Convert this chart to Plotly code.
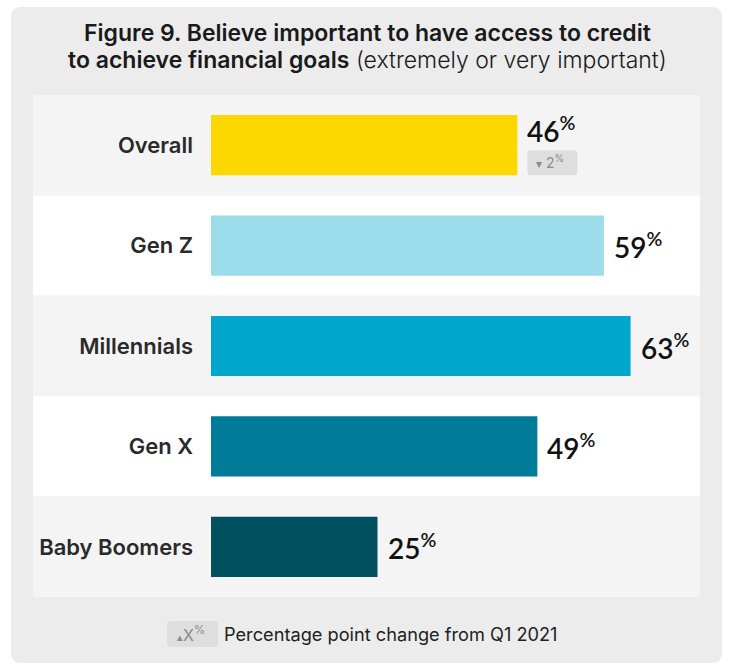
import plotly.graph_objects as go

# Survey results: share who say access to credit is extremely/very important
categories = ["Overall", "Gen Z", "Millennials", "Gen X", "Baby Boomers"]
values = [46, 59, 63, 49, 25]
bar_colors = ["#FCD800", "#9CDCEB", "#00A6CC", "#007C99", "#01505F"]
changes = {"Overall": -2}  # percentage point change from Q1 2021

W, H = 729, 667
FONT = "Inter"
NUM_FONT = "Lato"


def px(x):
    return x / W


def py(y):
    return 1 - y / H


def rounded_rect(x0, y0, x1, y1, r):
    """SVG path for a rounded rectangle given in pixel page coordinates."""
    X0, X1 = px(x0), px(x1)
    Y0, Y1 = py(y0), py(y1)
    rx, ry = r / W, r / H
    return (f"M{X0+rx},{Y0} L{X1-rx},{Y0} Q{X1},{Y0} {X1},{Y0-ry} "
            f"L{X1},{Y1+ry} Q{X1},{Y1} {X1-rx},{Y1} L{X0+rx},{Y1} "
            f"Q{X0},{Y1} {X0},{Y1+ry} L{X0},{Y0-ry} Q{X0},{Y0} {X0+rx},{Y0} Z")


fig = go.Figure()
fig.add_trace(go.Bar(
    x=values, y=categories, orientation="h",
    marker=dict(color=bar_colors, line=dict(width=0)),
    width=0.6, hoverinfo="skip",
))

shapes = []
# card background
shapes.append(dict(type="path", xref="paper", yref="paper",
                   path=rounded_rect(11, 7, 722, 663, 10),
                   fillcolor="#ECECEC", line=dict(width=0), layer="below"))
# alternating row bands
for i, _ in enumerate(categories):
    shapes.append(dict(type="rect", xref="paper", yref="y",
                       x0=px(33), x1=px(700), y0=i - 0.5, y1=i + 0.5,
                       fillcolor="#F4F4F4" if i % 2 == 0 else "#FFFFFF",
                       line=dict(width=0), layer="below"))

annotations = []
# two-line title
annotations.append(dict(
    xref="paper", yref="paper", x=px(367), y=py(33), xanchor="center", yanchor="middle",
    text="Figure 9. Believe important to have access to credit",
    showarrow=False, font=dict(family=FONT, size=23, color="#1A1A1A", weight=600),
))
annotations.append(dict(
    xref="paper", yref="paper", x=px(367), y=py(60), xanchor="center", yanchor="middle",
    text=("<span style='font-weight:600'>to achieve financial goals</span> "
          "<span style='font-weight:300'>(extremely or very important)</span>"),
    showarrow=False, font=dict(family=FONT, size=23, color="#1A1A1A"),
))

# value labels and change badges
for i, (cat, v) in enumerate(zip(categories, values)):
    shift = 16 if cat in changes else 0
    annotations.append(dict(
        x=v, y=cat, xref="x", yref="y", xanchor="left", yanchor="middle",
        xshift=8, yshift=shift, showarrow=False,
        text=f"{v}<sup>%</sup>",
        font=dict(family=NUM_FONT, size=28, color="#111111", weight=600),
    ))
    if cat in changes:
        d = changes[cat]
        arrow = "▾" if d < 0 else "▴"
        shapes.append(dict(
            type="path", xref="x", yref="y",
            xsizemode="pixel", ysizemode="pixel", xanchor=v, yanchor=i,
            path="M13,-5 L57,-5 Q60,-5 60,-8 L60,-27 Q60,-30 57,-30 L13,-30 "
                 "Q10,-30 10,-27 L10,-8 Q10,-5 13,-5 Z",
            fillcolor="#DEDEDE", line=dict(width=0),
        ))
        annotations.append(dict(
            x=v, y=cat, xref="x", yref="y", xanchor="center", yanchor="middle",
            xshift=33, yshift=-17, showarrow=False,
            text=f"<span style='font-size:12px'>{arrow}</span> {abs(d)}<sup>%</sup>",
            font=dict(family=FONT, size=14, color="#8A8A8A"),
        ))

# footer legend
shapes.append(dict(type="path", xref="paper", yref="paper",
                   path=rounded_rect(167, 621, 218, 647, 3),
                   fillcolor="#DEDEDE", line=dict(width=0)))
annotations.append(dict(
    xref="paper", yref="paper", x=px(191), y=py(634), xanchor="center", yanchor="middle",
    text="<span style='font-size:11px'>▴</span>X<sup>%</sup>", showarrow=False,
    font=dict(family=FONT, size=16, color="#8A8A8A"),
))
annotations.append(dict(
    xref="paper", yref="paper", x=px(222), y=py(634), xanchor="left", yanchor="middle",
    text="Percentage point change from Q1 2021", showarrow=False,
    font=dict(family=FONT, size=18.2, color="#222222"),
))

fig.update_layout(
    width=W, height=H, margin=dict(l=0, r=0, t=0, b=0),
    paper_bgcolor="#FFFFFF", plot_bgcolor="rgba(0,0,0,0)",
    showlegend=False, bargap=0.4,
    shapes=shapes, annotations=annotations,
    xaxis=dict(domain=[px(211), px(700)], range=[0, (700 - 211) / 6.66],
               visible=False, fixedrange=True),
    yaxis=dict(domain=[py(597), py(95)], type="category",
               categoryorder="array", categoryarray=categories,
               range=[len(categories) - 0.5, -0.5],
               showgrid=False, zeroline=False, showline=False, ticks="",
               ticklabelstandoff=17,
               tickfont=dict(family=FONT, size=22, color="#2A2A2A", weight=600),
               fixedrange=True),
)

fig.write_html("out.html")
